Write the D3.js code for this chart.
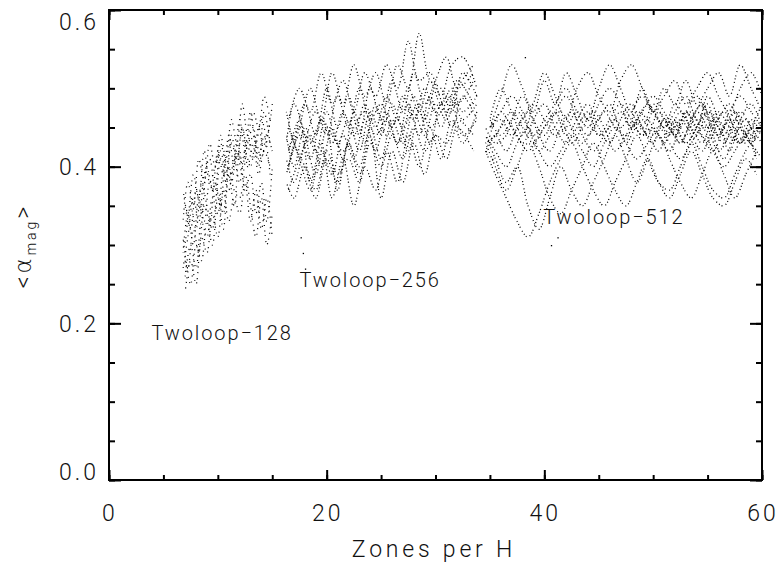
<!DOCTYPE html>
<html>
<head>
<meta charset="utf-8">
<script src="https://cdn.jsdelivr.net/npm/d3@7"></script>
<style>
  body { margin: 0; background: #fff; }
  svg text { font-family: "Roboto", "DejaVu Sans", sans-serif; font-weight: 300; fill: #111; }
  .tick-label { font-size: 23px; letter-spacing: 3px; }
  .axis-title { letter-spacing: 3.8px; }
  .run-label { font-size: 20px; letter-spacing: 1.9px; }
  .track { fill: none; stroke: #000; stroke-width: 1.25; stroke-dasharray: 1 2 1 3.5 1 2.5; }
  .track.sparse { stroke-dasharray: 1 3.5 1 5 1 4.5; }
</style>
</head>
<body>
<svg width="780" height="568"></svg>
<script>
// x positions where each run family was sampled (zones per H); odd runs use the "b" grid
const xs128  = [7, 7.5, 8, 8.5, 9, 9.5, 10, 10.5, 11, 11.5, 12, 12.5, 13, 13.5, 14, 14.5, 15];
const xs128b = [6.8, 7.25, 7.75, 8.25, 8.75, 9.25, 9.75, 10.25, 10.75, 11.25, 11.75, 12.25, 12.75, 13.25, 13.75, 14.25, 14.8];
const xs256  = [16.5, 17.5, 18.5, 19.5, 20.5, 21.5, 22.5, 23.5, 24.5, 25.5, 26.5, 27.5, 28.5, 29.5, 30.5, 31.5, 32.5, 33.8];
const xs256b = [16.3, 17, 18, 19, 20, 21, 22, 23, 24, 25, 26, 27, 28, 29, 30, 31, 32, 33.5];
const xs512  = [35, 36, 37, 38, 39, 40, 41, 42, 43, 44, 45, 46, 47, 48, 49, 50, 51, 52, 53, 54, 55, 56, 57, 58, 59, 60];
const xs512b = [34.6, 35.5, 36.5, 37.5, 38.5, 39.5, 40.5, 41.5, 42.5, 43.5, 44.5, 45.5, 46.5, 47.5, 48.5, 49.5, 50.5, 51.5, 52.5, 53.5, 54.5, 55.5, 56.5, 57.5, 58.5, 59.5];

// <alpha_mag> tracks
const runs128 = [
  [0.26,0.30,0.27,0.33,0.31,0.36,0.34,0.39,0.37,0.41,0.38,0.42,0.40,0.43,0.41,0.44,0.42],
  [0.31,0.27,0.32,0.29,0.35,0.33,0.38,0.35,0.41,0.39,0.43,0.40,0.44,0.41,0.45,0.42,0.46],
  [0.35,0.32,0.37,0.34,0.40,0.37,0.42,0.39,0.44,0.40,0.46,0.42,0.47,0.43,0.46,0.44,0.48],
  [0.29,0.34,0.30,0.36,0.33,0.38,0.36,0.41,0.38,0.43,0.41,0.45,0.42,0.44,0.40,0.47,0.43],
  [0.24,0.28,0.25,0.31,0.29,0.34,0.31,0.37,0.33,0.36,0.34,0.38,0.33,0.37,0.32,0.36,0.31],
  [0.33,0.38,0.35,0.41,0.38,0.43,0.40,0.44,0.41,0.46,0.43,0.48,0.44,0.47,0.45,0.49,0.46],
  [0.28,0.25,0.30,0.28,0.33,0.30,0.36,0.32,0.39,0.35,0.42,0.37,0.39,0.34,0.38,0.33,0.40],
  [0.37,0.34,0.39,0.36,0.42,0.38,0.40,0.42,0.39,0.44,0.41,0.45,0.40,0.43,0.39,0.42,0.40],
  [0.30,0.35,0.32,0.38,0.35,0.32,0.37,0.34,0.40,0.37,0.36,0.39,0.35,0.31,0.36,0.30,0.34],
  [0.27,0.31,0.36,0.33,0.39,0.41,0.37,0.43,0.40,0.38,0.42,0.39,0.43,0.45,0.41,0.44,0.39]
];

const runs256 = [
  [0.40,0.44,0.41,0.46,0.43,0.47,0.44,0.48,0.45,0.49,0.46,0.50,0.47,0.51,0.48,0.50,0.47,0.49],
  [0.44,0.40,0.45,0.42,0.47,0.43,0.46,0.42,0.47,0.44,0.48,0.45,0.49,0.46,0.50,0.47,0.51,0.48],
  [0.46,0.50,0.47,0.52,0.48,0.51,0.47,0.52,0.49,0.53,0.50,0.56,0.51,0.52,0.49,0.53,0.54,0.50],
  [0.38,0.36,0.40,0.37,0.42,0.39,0.41,0.38,0.43,0.40,0.44,0.41,0.45,0.42,0.44,0.43,0.46,0.44],
  [0.42,0.46,0.38,0.43,0.36,0.41,0.35,0.40,0.37,0.42,0.38,0.44,0.40,0.45,0.41,0.46,0.43,0.47],
  [0.39,0.43,0.48,0.44,0.50,0.45,0.49,0.44,0.50,0.46,0.51,0.47,0.52,0.48,0.51,0.54,0.50,0.52],
  [0.45,0.41,0.37,0.42,0.39,0.44,0.41,0.46,0.42,0.47,0.43,0.48,0.44,0.49,0.45,0.48,0.44,0.46],
  [0.41,0.38,0.43,0.47,0.44,0.49,0.45,0.50,0.46,0.48,0.45,0.49,0.46,0.50,0.47,0.49,0.48,0.51],
  [0.37,0.41,0.44,0.40,0.45,0.41,0.47,0.43,0.48,0.44,0.46,0.42,0.47,0.43,0.48,0.45,0.49,0.46],
  [0.43,0.48,0.44,0.39,0.45,0.37,0.43,0.39,0.44,0.36,0.42,0.38,0.43,0.39,0.44,0.41,0.45,0.42],
  [0.40,0.45,0.50,0.46,0.52,0.48,0.53,0.49,0.52,0.48,0.53,0.50,0.57,0.51,0.50,0.47,0.52,0.49],
  [0.47,0.43,0.40,0.36,0.41,0.38,0.43,0.40,0.45,0.41,0.46,0.43,0.47,0.44,0.48,0.46,0.50,0.53],
  [0.42,0.45,0.43,0.46,0.44,0.42,0.45,0.47,0.44,0.46,0.43,0.46,0.48,0.45,0.47,0.49,0.46,0.48]
];

const runs512 = [
  [0.43,0.45,0.47,0.45,0.43,0.45,0.47,0.44,0.46,0.48,0.45,0.43,0.46,0.48,0.45,0.43,0.46,0.44,0.47,0.45,0.43,0.46,0.48,0.45,0.43,0.46],
  [0.45,0.43,0.44,0.47,0.45,0.42,0.44,0.46,0.43,0.45,0.47,0.45,0.42,0.44,0.47,0.46,0.44,0.42,0.45,0.47,0.44,0.42,0.45,0.47,0.44,0.42],
  [0.44,0.47,0.45,0.43,0.46,0.48,0.45,0.43,0.45,0.47,0.44,0.46,0.48,0.46,0.44,0.47,0.45,0.48,0.46,0.44,0.47,0.45,0.43,0.46,0.48,0.45],
  [0.42,0.44,0.42,0.45,0.47,0.44,0.42,0.45,0.47,0.44,0.42,0.44,0.46,0.43,0.45,0.44,0.42,0.45,0.43,0.46,0.48,0.44,0.41,0.44,0.46,0.43],
  [0.46,0.44,0.46,0.49,0.46,0.44,0.47,0.49,0.46,0.44,0.46,0.48,0.45,0.47,0.49,0.47,0.45,0.47,0.49,0.46,0.45,0.47,0.45,0.43,0.45,0.48],
  [0.44,0.42,0.40,0.43,0.45,0.42,0.40,0.42,0.44,0.42,0.40,0.43,0.45,0.43,0.41,0.43,0.45,0.43,0.41,0.43,0.45,0.42,0.40,0.42,0.44,0.41],
  [0.45,0.47,0.49,0.47,0.44,0.46,0.48,0.50,0.47,0.45,0.48,0.50,0.48,0.45,0.47,0.49,0.47,0.45,0.47,0.49,0.46,0.44,0.47,0.49,0.47,0.45],
  [0.44,0.41,0.38,0.40,0.35,0.32,0.36,0.40,0.37,0.35,0.38,0.41,0.44,0.41,0.38,0.41,0.44,0.41,0.38,0.36,0.39,0.42,0.39,0.36,0.39,0.42],
  [0.45,0.49,0.53,0.50,0.47,0.51,0.48,0.52,0.49,0.46,0.50,0.53,0.50,0.47,0.50,0.47,0.50,0.48,0.51,0.48,0.50,0.52,0.49,0.53,0.50,0.47],
  [0.43,0.40,0.37,0.40,0.43,0.40,0.36,0.34,0.37,0.40,0.43,0.40,0.37,0.35,0.38,0.41,0.38,0.36,0.39,0.42,0.39,0.36,0.35,0.38,0.41,0.39],
  [0.46,0.50,0.47,0.44,0.48,0.52,0.49,0.46,0.50,0.52,0.49,0.47,0.51,0.53,0.50,0.47,0.49,0.51,0.48,0.50,0.52,0.49,0.47,0.50,0.52,0.49],
  [0.42,0.39,0.36,0.33,0.31,0.34,0.38,0.41,0.43,0.40,0.37,0.35,0.38,0.41,0.44,0.41,0.38,0.37,0.40,0.43,0.40,0.37,0.36,0.39,0.42,0.44],
  [0.45,0.46,0.44,0.46,0.48,0.46,0.44,0.45,0.47,0.46,0.44,0.45,0.47,0.45,0.46,0.44,0.46,0.45,0.43,0.45,0.47,0.46,0.44,0.43,0.45,0.44],
  [0.43,0.44,0.46,0.44,0.42,0.44,0.46,0.47,0.45,0.43,0.45,0.47,0.45,0.44,0.46,0.48,0.46,0.44,0.46,0.44,0.42,0.45,0.47,0.45,0.43,0.45],
  [null,null,null,null,null,null,null,null,null,null,null,null,null,0.46,0.44,0.45,0.43,0.46,0.44,0.47,0.45,0.42,0.44,0.47,0.45,0.43],
  [null,null,null,null,null,null,null,null,null,null,null,null,null,0.43,0.46,0.44,0.47,0.45,0.43,0.46,0.48,0.45,0.43,0.46,0.44,0.46],
  [null,null,null,null,null,null,null,null,null,null,null,null,null,0.47,0.45,0.48,0.46,0.44,0.47,0.45,0.49,0.46,0.42,0.45,0.43,0.41],
  [null,null,null,null,null,null,null,null,null,null,null,null,null,null,null,null,null,0.44,0.47,0.45,0.43,0.46,0.44,0.47,0.45,0.43],
  [null,null,null,null,null,null,null,null,null,null,null,null,null,null,null,null,null,0.46,0.43,0.45,0.48,0.44,0.46,0.43,0.46,0.44]
];

// stray dots
const strays = [[17.6, 0.31], [17.8, 0.29], [18.0, 0.27], [34.6, 0.42], [35.2, 0.41], [38.2, 0.54], [40.6, 0.30], [41.2, 0.31]];

const runLabels = [
  {text: "Twoloop\u2212128", x: 3.9, y: 0.188},
  {text: "Twoloop\u2212256", x: 17.5, y: 0.256},
  {text: "Twoloop\u2212512", x: 39.9, y: 0.336}
];

const xTicks = [0, 20, 40, 60],
      yTicks = [0.0, 0.2, 0.4, 0.6];

let svg     = d3.select("svg"),
    mLeft   = 109, mRight = 762, mTop = 10, mBottom = 480,
    x       = d3.scaleLinear().domain([0, 60]).range([mLeft, mRight]),
    y       = d3.scaleLinear().domain([0, 0.6]).range([mBottom, mTop]),
    gPlot   = svg.append("g");

function drawRuns(xsA, xsB, runs, cls) {
  let line = d3.line()
    .defined(d => d[1] !== null)
    .curve(d3.curveCatmullRom.alpha(0.5))
    .x(d => x(d[0]))
    .y(d => y(d[1]));
  gPlot.selectAll(null)
    .data(runs)
    .enter().append("path")
      .attr("class", "track " + cls)
      .attr("stroke-dashoffset", (r, k) => k * 1.7)
      .attr("d", (r, k) => {
        let xs = k % 2 ? xsB : xsA;
        return line(r.map((v, i) => [xs[i], v]));
      });
}

drawRuns(xs128, xs128b, runs128, "sparse");
drawRuns(xs256, xs256b, runs256, "");
drawRuns(xs512, xs512b, runs512, "");

gPlot.selectAll(".stray")
  .data(strays)
  .enter().append("rect")
    .attr("class", "stray")
    .attr("x", d => x(d[0]))
    .attr("y", d => y(d[1]))
    .attr("width", 1.3)
    .attr("height", 1.3)
    .attr("fill", "#000");

// axes: box with inward ticks on all four sides
let axes   = svg.append("g").attr("class", "axes"),
    xMinor = d3.range(0, 61, 5),
    yMinor = d3.range(0, 0.601, 0.05);

axes.append("g")
  .attr("transform", `translate(0,${mBottom})`)
  .call(d3.axisTop(x).tickValues(xMinor).tickSize(5).tickFormat(""));
axes.append("g")
  .attr("transform", `translate(0,${mBottom})`)
  .call(d3.axisTop(x).tickValues(xTicks).tickSize(10).tickFormat(""));
axes.append("g")
  .attr("transform", `translate(0,${mTop})`)
  .call(d3.axisBottom(x).tickValues(xMinor).tickSize(5).tickFormat(""));
axes.append("g")
  .attr("transform", `translate(0,${mTop})`)
  .call(d3.axisBottom(x).tickValues(xTicks).tickSize(10).tickFormat(""));
axes.append("g")
  .attr("transform", `translate(${mLeft},0)`)
  .call(d3.axisRight(y).tickValues(yMinor).tickSize(6).tickFormat(""));
axes.append("g")
  .attr("transform", `translate(${mLeft},0)`)
  .call(d3.axisRight(y).tickValues(yTicks).tickSize(12).tickFormat(""));
axes.append("g")
  .attr("transform", `translate(${mRight},0)`)
  .call(d3.axisLeft(y).tickValues(yMinor).tickSize(6).tickFormat(""));
axes.append("g")
  .attr("transform", `translate(${mRight},0)`)
  .call(d3.axisLeft(y).tickValues(yTicks).tickSize(12).tickFormat(""));

axes.selectAll(".domain").remove();
axes.selectAll(".tick line").attr("stroke", "#000").attr("stroke-width", 2);

axes.append("rect")
  .attr("x", mLeft).attr("y", mTop)
  .attr("width", mRight - mLeft).attr("height", mBottom - mTop)
  .attr("fill", "none").attr("stroke", "#000").attr("stroke-width", 2);

// tick labels
svg.selectAll(".ylab")
  .data(yTicks)
  .enter().append("text")
    .attr("class", "tick-label ylab")
    .attr("x", 99)
    .attr("y", d => Math.min(Math.max(y(d), mTop + 12), mBottom - 8))
    .attr("dy", "0.36em")
    .attr("text-anchor", "end")
    .text(d => d.toFixed(1));

svg.selectAll(".xlab")
  .data(xTicks)
  .enter().append("text")
    .attr("class", "tick-label xlab")
    .attr("x", d => x(d) + 1)
    .attr("y", 521)
    .attr("text-anchor", "middle")
    .text(d => d);

svg.append("text")
  .attr("class", "tick-label axis-title")
  .attr("x", 434)
  .attr("y", 557)
  .attr("text-anchor", "middle")
  .text("Zones per H");

let yTitle = svg.append("text")
  .attr("class", "tick-label")
  .attr("transform", "translate(31,246) rotate(-90)")
  .attr("text-anchor", "middle");
yTitle.append("tspan").text("<");
yTitle.append("tspan").attr("font-family", "DejaVu Sans").attr("font-weight", 200).text("\u03b1");
yTitle.append("tspan").attr("font-size", 14).attr("dy", 5).text("mag");
yTitle.append("tspan").attr("dy", -5).text(">");

svg.selectAll(".run-label")
  .data(runLabels)
  .enter().append("text")
    .attr("class", "run-label")
    .attr("x", d => x(d.x))
    .attr("y", d => y(d.y))
    .attr("dy", "0.36em")
    .text(d => d.text);
</script>
</body>
</html>
